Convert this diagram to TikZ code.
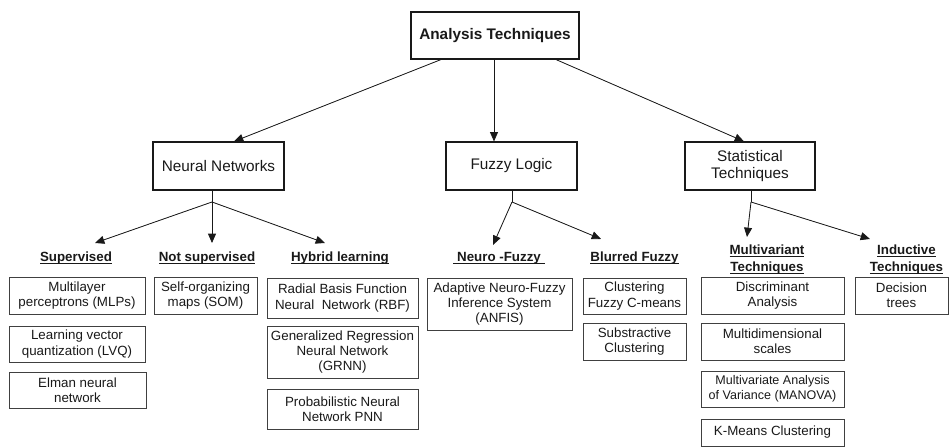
\documentclass[tikz,border=0pt]{standalone}
\usepackage{fontspec}
\setmainfont{Liberation Sans}
\usetikzlibrary{arrows.meta}
\newcommand\myul[1]{\setbox0\hbox{#1}\rlap{\rule[-2.2pt]{\wd0}{0.7pt}}\box0}
\newcommand\bx[7][]{%
  \pgfmathsetmacro\bw{(#5-#3)*0.75}%
  \pgfmathsetmacro\bh{(#6-#4)*0.75}%
  \node[box,#1,minimum width=\bw pt,minimum height=\bh pt] (#2) at ({(#3+#5)/2},{(#4+#6)/2}) {#7};}
\tikzset{
  box/.style={draw=black!75, line width=0.65pt, inner sep=0pt, align=center, text=black!90, font=\fontsize{10}{11.5}\selectfont},
  mainbox/.style={draw=black!90, line width=0.85pt, font=\fontsize{11.5}{12.5}\selectfont},
  topbox/.style={draw=black!90, line width=0.85pt, font=\fontsize{11.5}{13}\selectfont\bfseries},
  lbl/.style={inner sep=0pt, align=center, text=black!90, font=\fontsize{10}{12.7}\selectfont\bfseries},
  arr/.style={-{Triangle[length=7pt,width=6pt]}, line width=0.6pt, draw=black!90, fill=black!90},
  stem/.style={line width=0.6pt, draw=black!90}
}
\begin{document}
\begin{tikzpicture}[x=0.75pt,y=-0.75pt]
\useasboundingbox (0,0) rectangle (950,448);
% level 1 and 2
\bx[topbox]{top}{411}{12}{579}{59}{Analysis Techniques}
\bx[mainbox]{nn}{153}{142}{284}{190}{Neural Networks}
\bx[mainbox]{fl}{446}{142}{577}{190}{Fuzzy Logic}
\bx[mainbox]{st}{685}{142}{815}{190}{Statistical\\Techniques}
% level 3 labels
\node[lbl] (sup) at (76,258) {\myul{Supervised}};
\node[lbl] (nsup) at (207,258) {\myul{Not supervised}};
\node[lbl] (hyb) at (340,258) {\myul{Hybrid learning}};
\node[lbl] (nf) at (499,258) {\myul{\ Neuro -Fuzzy\ }};
\node[lbl] (bf) at (634.5,258) {\myul{Blurred Fuzzy}};
\node[lbl] (mv) at (767,259.5) {\myul{Multivariant}\\\myul{Techniques}};
\node[lbl] (ind) at (906.5,259.5) {\myul{Inductive}\\\myul{Techniques}};
% level 4 boxes
\bx{b1}{9}{277}{145}{314}{Multilayer\\perceptrons (MLPs)}
\bx{b2}{9}{326}{145}{362}{Learning vector\\quantization (LVQ)}
\bx{b3}{9}{372}{146}{408}{Elman neural\\network}
\bx{b4}{154}{277}{257}{314}{Self-organizing\\maps (SOM)}
\bx{b5}{267}{278}{418}{318}{Radial Basis Function\\Neural\ \ Network (RBF)}
\bx{b6}{267}{326}{418}{378}{Generalized Regression\\Neural Network\\(GRNN)}
\bx{b7}{267}{389}{418}{429}{Probabilistic Neural\\Network PNN}
\bx{b8}{427}{278}{572}{330}{Adaptive Neuro-Fuzzy\\Inference System\\(ANFIS)}
\bx{b9}{583}{278}{686}{314}{Clustering\\Fuzzy C-means}
\bx{b10}{583}{323}{686}{360}{Substractive\\Clustering}
\bx{b11}{701}{277}{844}{314}{Discriminant\\Analysis}
\bx{b12}{701}{323}{844}{360}{Multidimensional\\scales}
\bx[font=\fontsize{9.4}{11.5}\selectfont]{b13}{701}{371}{844}{407}{Multivariate Analysis\\of Variance (MANOVA)}
\bx{b14}{701}{419}{844}{446}{K-Means Clustering}
\bx{b15}{855}{277}{948}{314}{Decision\\trees}
% top arrows
\coordinate (s1) at (441,0); \coordinate (s2) at (494,0); \coordinate (s3) at (556,0);
\coordinate (e1) at (234,0); \coordinate (e3) at (744,0);
\draw[arr] (top.south -| s1) -- (nn.north -| e1);
\draw[arr] (top.south -| s2) -- (fl.north -| s2);
\draw[arr] (top.south -| s3) -- (st.north -| e3);
% neural networks branches
\coordinate (nnJ) at (212,202);
\coordinate (tSup) at (95,243); \coordinate (tNsup) at (212,243); \coordinate (tHyb) at (325,243);
\draw[stem] (nn.south -| nnJ) -- (nnJ);
\draw[arr] (nnJ) -- (tSup);
\draw[arr] (nnJ) -- (tNsup);
\draw[arr] (nnJ) -- (tHyb);
% fuzzy branches
\coordinate (flJ) at (512,202);
\coordinate (tNf) at (493,245); \coordinate (tBf) at (601,239);
\draw[stem] (fl.south -| flJ) -- (flJ);
\draw[arr] (flJ) -- (tNf);
\draw[arr] (flJ) -- (tBf);
% statistical branches
\coordinate (stJ) at (751,202);
\coordinate (tMv) at (747,237); \coordinate (tInd) at (870,239);
\draw[stem] (st.south -| stJ) -- (stJ);
\draw[arr] (stJ) -- (tMv);
\draw[arr] (stJ) -- (tInd);
\end{tikzpicture}
\end{document}
